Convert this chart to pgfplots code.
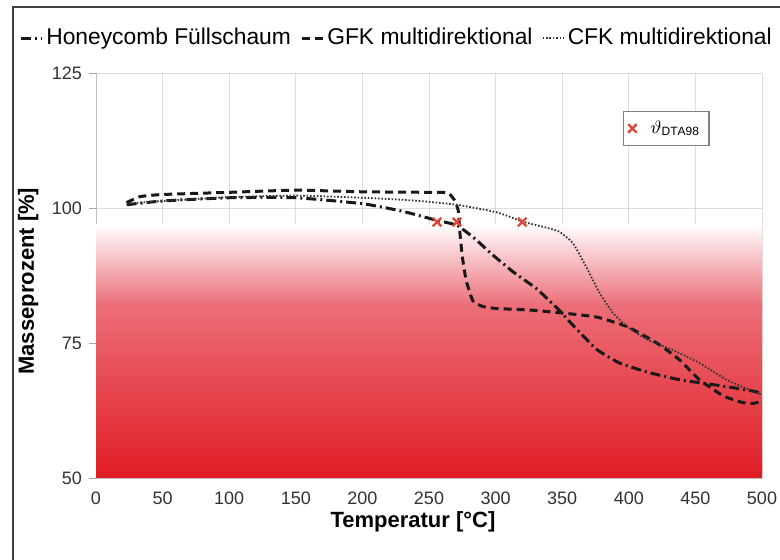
\documentclass[border=0pt]{standalone}
\usepackage{fontspec}
\setmainfont{Liberation Sans}
\usepackage{pgfplots}
\pgfplotsset{compat=1.18}
\definecolor{redbot}{RGB}{224,28,36}
\definecolor{redmid}{RGB}{236,110,120}
\definecolor{crossred}{RGB}{222,70,55}
\definecolor{tickgray}{RGB}{50,50,50}

\pgfplotsset{
  common/.style={
    scale only axis, width=333pt, height=202.5pt,
    at={(48pt,41pt)}, anchor=south west,
    xmin=0, xmax=500, ymin=50, ymax=125,
  },
}

\begin{document}
\begin{tikzpicture}
\begin{axis}[common,
  set layers,
  xtick={0,50,...,500}, ytick={50,75,100,125},
  grid=major,
  grid style={black!60, opacity=0.22, line width=0.5pt},
  axis line style={black!25},
  axis x line*=bottom, axis y line*=left,
  tick align=outside, major tick length=3.5pt,
  tick style={black!35},
  xtick style={draw=none},
  /pgf/number format/assume math mode=true,
  tick label style={font=\fontsize{9}{10}\selectfont, text=tickgray},
  xlabel={\textbf{Temperatur [°C]}},
  ylabel={\textbf{Masseprozent [\%]}},
  label style={font=\fontsize{11}{13}\selectfont},
  xlabel style={at={(axis description cs:0.476,-0.109)}, anchor=center},
  ylabel style={at={(axis description cs:-0.102,0.486)}, anchor=center},
  legend columns=3,
  legend style={at={(axis description cs:-0.116,1.086)}, anchor=west,
    draw=none, fill=none, inner sep=0pt,
    font=\fontsize{11.4}{13}\selectfont,
    nodes={inner xsep=1.6pt, inner ysep=1.5pt},
    /tikz/every even column/.append style={column sep=3pt}},
  legend image code/.code={\draw[#1] (0pt,0pt) -- (10.5pt,0pt);},
]
\fill[on layer=axis background, top color=white, bottom color=redmid]
  (axis cs:0,82) rectangle (axis cs:500,97);
\fill[on layer=axis background, top color=redmid, bottom color=redbot]
  (axis cs:0,50) rectangle (axis cs:500,82.05);

\addplot[black!90, line width=1.5pt, smooth, tension=0.3,
  dash pattern=on 5pt off 2pt on 1pt off 2pt] coordinates {
  (23,100.6) (50,101.3) (100,101.9) (150,101.9) (200,100.8) (230,99.4)
  (256,97.7) (271,96.8) (285,94.2) (296,91.7) (313,88.2) (331,85.0)
  (348,81.0) (358,78.3) (376,73.8) (393,71.3) (414,69.6) (438,68.2)
  (463,67.3) (489,66.3) (500,65.7)
};
\addlegendentry{Honeycomb Füllschaum}

\addplot[black!90, line width=1.5pt, smooth, tension=0.3,
  dash pattern=on 4pt off 2.5pt] coordinates {
  (23,101.0) (33,102.1) (50,102.5) (100,102.9) (150,103.3) (200,103.0)
  (250,102.9) (264,102.8) (269,101.5) (272,99.5) (273,96) (275,91)
  (278,86.5) (283,82.8) (290,81.8) (300,81.4) (326,81.1) (348,80.6)
  (376,79.8) (399,78.0) (421,75.0) (438,71.9) (453,68.2) (471,65.2)
  (485,64.0) (493,63.8) (500,64.2)
};
\addlegendentry{GFK multidirektional}

\addplot[black!80, line width=0.9pt, smooth, tension=0.3,
  dash pattern=on 0.8pt off 0.9pt] coordinates {
  (23,100.8) (50,101.3) (100,102.0) (150,102.3) (200,101.9) (238,101.4)
  (271,100.6) (301,99.2) (320,97.5) (339,96.3) (348,95.6) (358,93.5)
  (368,89.1) (378,84.3) (388,80.6) (399,78.0) (414,75.6) (433,73.7)
  (453,71.3) (474,68.1) (499,65.5)
};
\addlegendentry{CFK multidirektional}
\end{axis}

\begin{axis}[common, hide axis,
  legend style={at={(axis description cs:0.856,0.863)}, anchor=center,
    draw=black!50, line width=0.6pt, fill=white, inner sep=2.5pt,
    font=\fontsize{9}{10}\selectfont,
    nodes={inner sep=2pt}},
]
\addplot[only marks, mark=x, mark size=3pt, crossred, line width=1.2pt]
  coordinates {(256,97.4) (271,97.4) (320,97.4)};
\addlegendentry{\hspace{5pt}$\vartheta_{\mathrm{DTA98}}$}
\end{axis}

% frame of the original figure
\draw[black!75, line width=0.7pt] (6.5pt,-5pt) -- (6.5pt,276.5pt) -- (400pt,276.5pt);
\pgfresetboundingbox
\useasboundingbox (0,0) rectangle (390pt,280pt);
\end{tikzpicture}
\end{document}
